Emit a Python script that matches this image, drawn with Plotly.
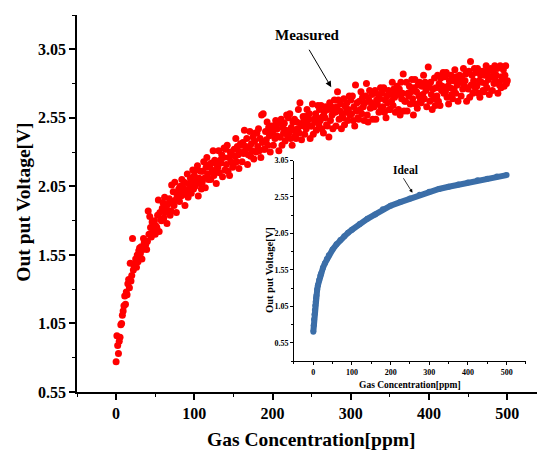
import plotly.graph_objects as go

# ---------------- data ----------------
measured_ppm = [
    0, 1, 2, 3, 4, 5, 6, 7, 8, 9,
    10, 11, 12, 13, 14, 15, 16, 17, 18, 19,
    20, 21, 22, 23, 24, 25, 26, 27, 28, 29,
    30, 31, 32, 33, 34, 35, 36, 37, 38, 39,
    40, 41, 42, 43, 44, 45, 46, 47, 48, 49,
    50, 51, 52, 53, 54, 55, 56, 57, 58, 59,
    60, 61, 62, 63, 64, 65, 66, 67, 68, 69,
    70, 71, 72, 73, 74, 75, 76, 77, 78, 79,
    80, 81, 82, 83, 84, 85, 86, 87, 88, 89,
    90, 91, 92, 93, 94, 95, 96, 97, 98, 99,
    100, 101, 102, 103, 104, 105, 106, 107, 108, 109,
    110, 111, 112, 113, 114, 115, 116, 117, 118, 119,
    120, 121, 122, 123, 124, 125, 126, 127, 128, 129,
    130, 131, 132, 133, 134, 135, 136, 137, 138, 139,
    140, 141, 142, 143, 144, 145, 146, 147, 148, 149,
    150, 151, 152, 153, 154, 155, 156, 157, 158, 159,
    160, 161, 162, 163, 164, 165, 166, 167, 168, 169,
    170, 171, 172, 173, 174, 175, 176, 177, 178, 179,
    180, 181, 182, 183, 184, 185, 186, 187, 188, 189,
    190, 191, 192, 193, 194, 195, 196, 197, 198, 199,
    200, 201, 202, 203, 204, 205, 206, 207, 208, 209,
    210, 211, 212, 213, 214, 215, 216, 217, 218, 219,
    220, 221, 222, 223, 224, 225, 226, 227, 228, 229,
    230, 231, 232, 233, 234, 235, 236, 237, 238, 239,
    240, 241, 242, 243, 244, 245, 246, 247, 248, 249,
    250, 251, 252, 253, 254, 255, 256, 257, 258, 259,
    260, 261, 262, 263, 264, 265, 266, 267, 268, 269,
    270, 271, 272, 273, 274, 275, 276, 277, 278, 279,
    280, 281, 282, 283, 284, 285, 286, 287, 288, 289,
    290, 291, 292, 293, 294, 295, 296, 297, 298, 299,
    300, 301, 302, 303, 304, 305, 306, 307, 308, 309,
    310, 311, 312, 313, 314, 315, 316, 317, 318, 319,
    320, 321, 322, 323, 324, 325, 326, 327, 328, 329,
    330, 331, 332, 333, 334, 335, 336, 337, 338, 339,
    340, 341, 342, 343, 344, 345, 346, 347, 348, 349,
    350, 351, 352, 353, 354, 355, 356, 357, 358, 359,
    360, 361, 362, 363, 364, 365, 366, 367, 368, 369,
    370, 371, 372, 373, 374, 375, 376, 377, 378, 379,
    380, 381, 382, 383, 384, 385, 386, 387, 388, 389,
    390, 391, 392, 393, 394, 395, 396, 397, 398, 399,
    400, 401, 402, 403, 404, 405, 406, 407, 408, 409,
    410, 411, 412, 413, 414, 415, 416, 417, 418, 419,
    420, 421, 422, 423, 424, 425, 426, 427, 428, 429,
    430, 431, 432, 433, 434, 435, 436, 437, 438, 439,
    440, 441, 442, 443, 444, 445, 446, 447, 448, 449,
    450, 451, 452, 453, 454, 455, 456, 457, 458, 459,
    460, 461, 462, 463, 464, 465, 466, 467, 468, 469,
    470, 471, 472, 473, 474, 475, 476, 477, 478, 479,
    480, 481, 482, 483, 484, 485, 486, 487, 488, 489,
    490, 491, 492, 493, 494, 495, 496, 497, 498, 499,
    500,
]

measured_volt = [
    0.77, 0.96, 0.89, 0.83, 0.92, 0.95, 1.04, 1.05, 1.11, 1.14,
    1.18, 1.25, 1.19, 1.28, 1.26, 1.34, 1.37, 1.31, 1.49, 1.36,
    1.40, 1.67, 1.44, 1.47, 1.49, 1.52, 1.46, 1.55, 1.50, 1.58,
    1.60, 1.56, 1.61, 1.52, 1.59, 1.67, 1.64, 1.61, 1.63, 1.59,
    1.65, 1.87, 1.70, 1.83, 1.75, 1.68, 1.79, 1.72, 1.71, 1.80,
    1.70, 1.76, 1.75, 1.84, 1.95, 1.72, 1.86, 1.81, 1.80, 1.89,
    1.93, 1.82, 1.97, 1.86, 1.89, 1.78, 1.92, 1.87, 1.96, 1.84,
    1.87, 2.06, 1.94, 2.01, 1.91, 2.08, 1.95, 1.86, 1.98, 2.00,
    2.03, 1.94, 2.05, 1.98, 2.10, 2.00, 2.04, 2.08, 1.91, 1.99,
    2.02, 2.14, 1.97, 2.07, 2.04, 2.11, 2.00, 2.08, 2.17, 2.03,
    2.13, 2.05, 2.17, 2.09, 2.20, 1.98, 2.11, 2.07, 2.16, 2.03,
    2.08, 2.16, 2.23, 2.11, 2.04, 2.19, 2.26, 2.14, 2.10, 2.21,
    2.19, 2.10, 2.22, 2.16, 2.31, 2.13, 2.24, 2.17, 2.07, 2.21,
    2.19, 2.31, 2.15, 2.24, 2.22, 2.28, 2.12, 2.26, 2.33, 2.17,
    2.32, 2.21, 2.35, 2.16, 2.26, 2.13, 2.30, 2.23, 2.28, 2.19,
    2.21, 2.32, 2.27, 2.40, 2.23, 2.34, 2.28, 2.18, 2.30, 2.36,
    2.35, 2.23, 2.37, 2.29, 2.46, 2.31, 2.34, 2.40, 2.21, 2.28,
    2.33, 2.45, 2.27, 2.36, 2.31, 2.41, 2.25, 2.38, 2.44, 2.30,
    2.44, 2.34, 2.47, 2.31, 2.40, 2.26, 2.57, 2.37, 2.58, 2.32,
    2.32, 2.45, 2.39, 2.52, 2.35, 2.48, 2.42, 2.30, 2.44, 2.49,
    2.45, 2.35, 2.49, 2.40, 2.53, 2.42, 2.47, 2.51, 2.31, 2.41,
    2.41, 2.54, 2.35, 2.48, 2.44, 2.51, 2.38, 2.46, 2.57, 2.42,
    2.55, 2.44, 2.58, 2.40, 2.48, 2.35, 2.52, 2.46, 2.54, 2.42,
    2.40, 2.52, 2.47, 2.61, 2.44, 2.66, 2.49, 2.39, 2.51, 2.56,
    2.53, 2.43, 2.56, 2.47, 2.61, 2.50, 2.54, 2.58, 2.40, 2.49,
    2.49, 2.65, 2.43, 2.54, 2.52, 2.58, 2.46, 2.55, 2.64, 2.50,
    2.61, 2.53, 2.64, 2.47, 2.56, 2.44, 2.59, 2.55, 2.63, 2.50,
    2.49, 2.61, 2.41, 2.66, 2.53, 2.63, 2.57, 2.47, 2.59, 2.68,
    2.59, 2.49, 2.63, 2.74, 2.68, 2.54, 2.60, 2.65, 2.47, 2.57,
    2.55, 2.69, 2.50, 2.63, 2.59, 2.66, 2.53, 2.61, 2.71, 2.57,
    2.68, 2.58, 2.71, 2.53, 2.63, 2.49, 2.79, 2.60, 2.66, 2.55,
    2.54, 2.67, 2.61, 2.74, 2.58, 2.70, 2.63, 2.53, 2.66, 2.71,
    2.80, 2.57, 2.52, 2.68, 2.75, 2.62, 2.66, 2.72, 2.54, 2.63,
    2.63, 2.75, 2.54, 2.68, 2.65, 2.72, 2.59, 2.69, 2.77, 2.62,
    2.73, 2.63, 2.77, 2.59, 2.68, 2.55, 2.71, 2.66, 2.75, 2.61,
    2.61, 2.72, 2.67, 2.81, 2.64, 2.76, 2.70, 2.59, 2.73, 2.78,
    2.72, 2.61, 2.76, 2.57, 2.81, 2.69, 2.73, 2.87, 2.60, 2.67,
    2.67, 2.81, 2.60, 2.73, 2.71, 2.78, 2.65, 2.74, 2.83, 2.69,
    2.57, 2.77, 2.83, 2.65, 2.74, 2.62, 2.79, 2.71, 2.81, 2.68,
    2.66, 2.78, 2.72, 2.86, 2.69, 2.81, 2.75, 2.63, 2.77, 2.92,
    2.78, 2.67, 2.81, 2.72, 2.61, 2.76, 2.69, 2.84, 2.64, 2.77,
    2.71, 2.86, 2.67, 2.80, 2.64, 2.84, 2.75, 2.78, 2.88, 2.73,
    2.85, 2.74, 2.88, 2.70, 2.78, 2.65, 2.82, 2.77, 2.86, 2.72,
    2.69, 2.82, 2.76, 2.90, 2.73, 2.85, 2.79, 2.67, 2.81, 2.86,
    2.81, 2.71, 2.85, 2.76, 2.91, 2.78, 2.82, 2.87, 2.67, 2.77,
    2.76, 2.89, 2.70, 2.96, 2.79, 2.86, 2.73, 2.82, 2.91, 2.77,
    2.88, 2.78, 2.91, 2.73, 2.82, 2.70, 2.86, 2.81, 2.89, 2.75,
    2.74, 2.86, 2.80, 2.93, 2.77, 2.89, 2.83, 2.72, 2.85, 2.91,
    2.85, 2.75, 2.89, 2.80, 2.93, 2.82, 2.86, 2.91, 2.73, 2.81,
    2.79, 2.93, 2.77, 2.85, 2.83, 2.90, 2.78, 2.86, 2.93, 2.80,
    2.82,
]

ideal_ppm = [0, 1, 2, 3, 4, 5, 6, 7, 8, 10, 12, 15, 18, 20, 25, 30, 35, 40,
             50, 60, 70, 80, 90, 100, 120, 140, 160, 180, 200, 225, 250,
             275, 300, 325, 350, 375, 400, 425, 450, 475, 500]
ideal_volt = [0.70, 0.79, 0.87, 0.94, 1.00, 1.06, 1.11, 1.16, 1.20, 1.28,
              1.34, 1.41, 1.47, 1.50, 1.58, 1.64, 1.70, 1.75, 1.83, 1.90,
              1.96, 2.01, 2.06, 2.10, 2.18, 2.25, 2.31, 2.38, 2.43, 2.48,
              2.53, 2.58, 2.62, 2.66, 2.69, 2.72, 2.75, 2.78, 2.80, 2.83,
              2.85]

volt_ticks = [0.55, 1.05, 1.55, 2.05, 2.55, 3.05]
volt_tick_text = ["0.55", "1.05", "1.55", "2.05", "2.55", "3.05"]
ppm_ticks = [0, 100, 200, 300, 400, 500]

# ---------------- styling ----------------
FONT = "Liberation Serif"
RED = "#ff0000"
BLUE = "#3b6ea8"

fig = go.Figure()

fig.add_trace(go.Scatter(
    x=measured_ppm, y=measured_volt, mode="markers",
    marker=dict(color=RED, size=7, line=dict(width=0)),
    xaxis="x", yaxis="y", showlegend=False, name="Measured"))

fig.add_trace(go.Scatter(
    x=ideal_ppm, y=ideal_volt, mode="lines+markers",
    line=dict(color=BLUE, width=6),
    marker=dict(color=BLUE, size=6, line=dict(width=0)),
    xaxis="x2", yaxis="y2", showlegend=False, name="Ideal"))

main_axis = dict(showline=True, linecolor="black", linewidth=1.6,
                 showgrid=False, zeroline=False, ticks="outside",
                 ticklen=6, tickwidth=1.6, tickcolor="black",
                 mirror=False, automargin=False)

fig.update_layout(
    width=537, height=452,
    paper_bgcolor="white", plot_bgcolor="rgba(0,0,0,0)",
    margin=dict(l=77, r=0, t=15, b=60, autoexpand=False),
    font=dict(family=FONT, color="black"),
    xaxis=dict(
        **main_axis, range=[-50, 538], tickvals=ppm_ticks,
        tickfont=dict(family=FONT, size=16, weight="bold"),
        minor=dict(dtick=50, tick0=-50, ticks="outside", ticklen=3.5,
                   tickwidth=1.4, tickcolor="black"),
    ),
    yaxis=dict(
        **main_axis, range=[0.55, 3.30], tickvals=volt_ticks,
        ticktext=volt_tick_text,
        tickfont=dict(family=FONT, size=16, weight="bold"),
        minor=dict(dtick=0.25, tick0=0.55, ticks="outside", ticklen=3.5,
                   tickwidth=1.4, tickcolor="black"),
    ),
    xaxis2=dict(
        domain=[0.4717, 0.976], anchor="y2", range=[-50, 550],
        showline=True, linecolor="black", linewidth=1, showgrid=False,
        zeroline=False, ticks="outside", ticklen=3, tickwidth=1,
        tickcolor="black", tickvals=ppm_ticks, automargin=False,
        tickfont=dict(family=FONT, size=8, weight="bold"),
        minor=dict(dtick=50, tick0=-50, ticks="outside", ticklen=2,
                   tickcolor="black"),
    ),
    yaxis2=dict(
        domain=[0.0822, 0.614], anchor="x2", range=[0.30, 3.05],
        showline=True, linecolor="black", linewidth=1, showgrid=False,
        zeroline=False, ticks="outside", ticklen=3, tickwidth=1,
        tickcolor="black", tickvals=volt_ticks, ticktext=volt_tick_text,
        automargin=False,
        tickfont=dict(family=FONT, size=8, weight="bold"),
        minor=dict(dtick=0.25, tick0=0.30, ticks="outside", ticklen=2,
                   tickcolor="black"),
    ),
)

title_kw = dict(xref="paper", yref="paper", showarrow=False,
                xanchor="center", yanchor="middle")
# axis titles
fig.add_annotation(x=0.5087, y=-0.1273, text="<b>Gas Concentration[ppm]</b>",
                   font=dict(family=FONT, size=19.5, color="black"), **title_kw)
fig.add_annotation(x=-0.117, y=0.5027, text="<b>Out put Voltage[V]</b>",
                   textangle=-90,
                   font=dict(family=FONT, size=19.5, color="black"), **title_kw)
fig.add_annotation(x=0.7239, y=0.0186, text="<b>Gas Concentration[ppm]</b>",
                   font=dict(family=FONT, size=9.5, color="black"), **title_kw)
fig.add_annotation(x=0.4174, y=0.3236, text="<b>Out put Voltage[V]</b>",
                   textangle=-90,
                   font=dict(family=FONT, size=10.5, color="black"), **title_kw)

# labels and arrows
fig.add_annotation(x=244, y=3.152, xref="x", yref="y", text="<b>Measured</b>",
                   showarrow=False, xanchor="center", yanchor="middle",
                   font=dict(family=FONT, size=15, color="black"))
fig.add_annotation(x=275, y=2.773, xref="x", yref="y", text="",
                   showarrow=True, ax=-23, ay=-39, axref="pixel", ayref="pixel",
                   arrowhead=2, arrowsize=1.2, arrowwidth=1, arrowcolor="black")
fig.add_annotation(x=238, y=2.916, xref="x2", yref="y2", text="<b>Ideal</b>",
                   showarrow=False, xanchor="center", yanchor="middle",
                   font=dict(family=FONT, size=11.5, color="black"))
fig.add_annotation(x=256.5, y=2.608, xref="x2", yref="y2", text="",
                   showarrow=True, ax=-10, ay=-16, axref="pixel", ayref="pixel",
                   arrowhead=2, arrowsize=0.9, arrowwidth=0.8, arrowcolor="black")

fig.write_html("out.html", config={"displayModeBar": False},
               post_script="document.body.style.margin='0px';")
